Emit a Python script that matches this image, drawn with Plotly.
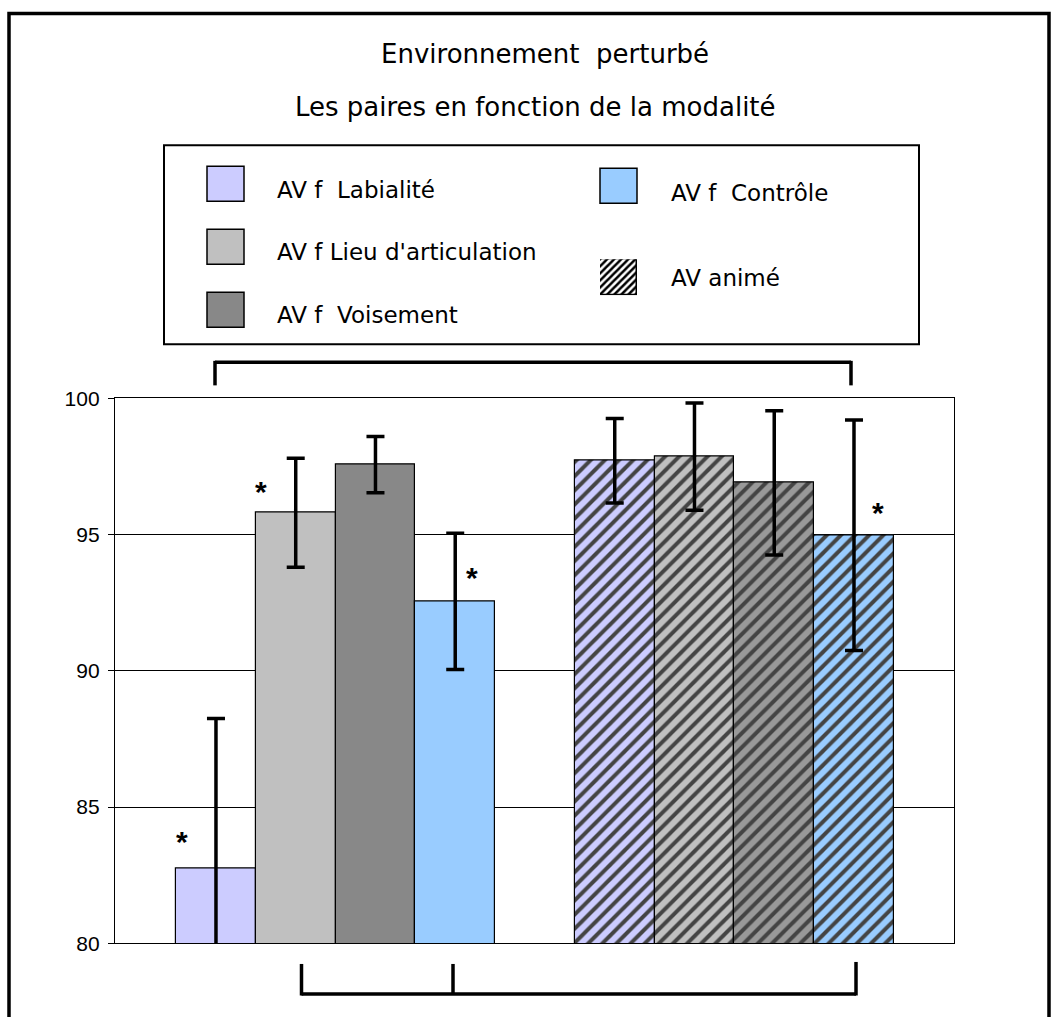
import plotly.graph_objects as go

# ---------------- data ----------------
conditions = ["AV f", "AV animé"]
series = ["Labialité", "Lieu d'articulation", "Voisement", "Contrôle"]
colors = ["#CCCCFF", "#C0C0C0", "#888888", "#99CCFF"]
hatch_colors = ["#CCCCFF", "#C0C0C0", "#999999", "#99CCFF"]

avf_values = [82.75, 95.80, 97.57, 92.55]
avf_errors = [5.50, 2.00, 1.03, 2.50]
anime_values = [97.71, 97.86, 96.90, 94.98]
anime_errors = [1.55, 1.97, 2.65, 4.23]

y_ticks = [80, 85, 90, 95, 100]

# significance stars: (condition index, series index, x offset, y value)
stars = [(0, 0, -0.43, 83.86), (0, 1, -0.44, 96.70), (0, 3, 0.21, 93.54), (1, 3, 0.30, 95.93)]

# ---------------- layout helpers ----------------
W, H = 1051, 1017
# the photographed page is shown with a small vertical inset; map target pixel rows to page rows
S = 993 / 1017
PAD = 12


def fx(p):
    return p / W


def fy(p):
    return 1 - ((p - PAD) / S) / H


GROUP_STEP = len(series) + 1
xpos = lambda c, s: c * GROUP_STEP + s

fig = go.Figure()

fig.add_trace(go.Bar(
    x=[xpos(0, i) for i in range(len(series))], y=avf_values, width=1,
    marker=dict(color=colors, line=dict(color="black", width=1.2)),
    error_y=dict(type="data", array=avf_errors, visible=True, color="black", thickness=3.5, width=9),
    showlegend=False, hoverinfo="skip"))

fig.add_trace(go.Bar(
    x=[xpos(1, i) for i in range(len(series))], y=anime_values, width=1,
    marker=dict(color=hatch_colors, line=dict(color="black", width=1.2),
                pattern=dict(shape="/", fgcolor="black", fgopacity=1, bgcolor=hatch_colors, size=10,
                             solidity=0.4)),
    error_y=dict(type="data", array=anime_errors, visible=True, color="black", thickness=3.5, width=9),
    showlegend=False, hoverinfo="skip"))

# hatched legend swatch as a bar on its own small axes
fig.add_trace(go.Bar(
    x=[0], y=[1], width=1, xaxis="x2", yaxis="y2",
    marker=dict(color="white", line=dict(color="black", width=1.5),
                pattern=dict(shape="/", fgcolor="black", fgopacity=1, bgcolor="white", size=5, solidity=0.5)),
    showlegend=False, hoverinfo="skip"))

shapes = []
# outer frame
shapes.append(dict(type="rect", xref="paper", yref="paper", x0=fx(9), x1=fx(1049), y0=fy(1060), y1=fy(13.5),
                   line=dict(color="black", width=3.5)))
# legend frame
shapes.append(dict(type="rect", xref="paper", yref="paper", x0=fx(164), x1=fx(919), y0=fy(344), y1=fy(145),
                   line=dict(color="black", width=2)))
# legend swatches (plain)
sw = [(207, 166, 0), (207, 229, 1), (207, 292, 2), (600, 168, 3)]
for (sx, sy, ci) in sw:
    shapes.append(dict(type="rect", xref="paper", yref="paper", x0=fx(sx), x1=fx(sx + 37), y0=fy(sy + 35), y1=fy(sy),
                       fillcolor=colors[ci], line=dict(color="black", width=1.5)))


def seg(x0, y0, x1, y1, w=3.5):
    shapes.append(dict(type="line", xref="paper", yref="paper", x0=fx(x0), x1=fx(x1), y0=fy(y0), y1=fy(y1),
                       line=dict(color="black", width=w)))


# top bracket
seg(215, 362, 851, 362)
seg(215, 360.5, 215, 385)
seg(851, 360.5, 851, 385)
# bottom bracket
seg(301.5, 993, 856, 993)
seg(301.5, 963, 301.5, 994.5)
seg(453, 963, 453, 993)
seg(856, 961, 856, 994.5)

annotations = []
# title
annotations.append(dict(text="Environnement\u00a0\u00a0perturbé", xref="paper", yref="paper", x=fx(545), y=fy(54),
                        xanchor="center", yanchor="middle", showarrow=False,
                        font=dict(family="DejaVu Sans", size=26, color="black")))
annotations.append(dict(text="Les paires en fonction de la modalité", xref="paper", yref="paper", x=fx(535), y=fy(107),
                        xanchor="center", yanchor="middle", showarrow=False,
                        font=dict(family="DejaVu Sans", size=26, color="black")))
# legend labels
leg = [("AV f\u00a0\u00a0" + series[0], 275, 190), ("AV f " + series[1], 275, 252),
       ("AV f\u00a0\u00a0" + series[2], 275, 315), ("AV f\u00a0\u00a0" + series[3], 669, 193),
       (conditions[1], 669, 278)]
for (t, lx, ly) in leg:
    annotations.append(dict(text=t, xref="paper", yref="paper", x=fx(lx), y=fy(ly), xanchor="left",
                            yanchor="middle", showarrow=False,
                            font=dict(family="DejaVu Sans", size=23, color="black")))
# stars
for (c, s, dx, yv) in stars:
    annotations.append(dict(text="<b>*</b>", x=xpos(c, s) + dx, y=yv, xref="x", yref="y", showarrow=False,
                            xanchor="center", yanchor="middle", yshift=-3,
                            font=dict(family="Liberation Sans", size=30, color="black")))

fig.update_layout(
    width=W, height=H, margin=dict(l=0, r=0, t=0, b=0),
    paper_bgcolor="white", plot_bgcolor="white",
    bargap=0, barmode="overlay",
    shapes=shapes, annotations=annotations,
    xaxis=dict(domain=[fx(115), fx(954)], range=[-1.266, 9.254], showticklabels=False, showgrid=False,
               zeroline=False, showline=True, linecolor="black", linewidth=1.3, mirror=True, ticks=""),
    yaxis=dict(domain=[fy(942.3), fy(398)], range=[80, 100], tickvals=y_ticks, ticks="outside", ticklen=6,
               tickcolor="black", tickwidth=1.3, showgrid=True, gridcolor="black", gridwidth=1.3,
               zeroline=False, showline=True, linecolor="black", linewidth=1.3, mirror=True,
               ticklabelstandoff=4,
               tickfont=dict(family="Liberation Sans", size=21, color="black")),
    xaxis2=dict(domain=[fx(600), fx(637)], range=[-0.5, 0.5], visible=False, anchor="y2"),
    yaxis2=dict(domain=[fy(295), fy(259)], range=[0, 1], visible=False, anchor="x2"),
)

fig.write_html("out.html", include_plotlyjs=True, config={"displayModeBar": False},
               post_script="document.body.style.margin='0';document.documentElement.style.overflow='hidden';")
